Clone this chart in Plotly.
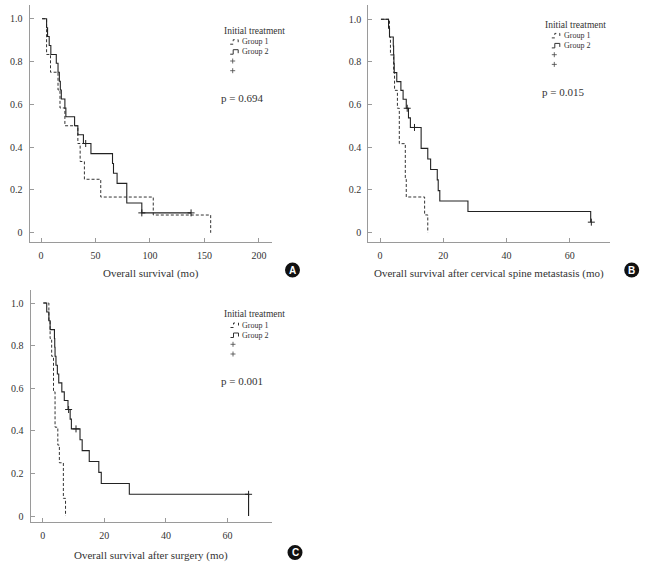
import plotly.graph_objects as go

# survival curves (time in months, survival after each step)
a_g1_t = [1, 5.1, 8.7, 15.6, 17.4, 21.9, 33.8, 35.9, 39.8, 54.8, 103, 155.7]
a_g1_s = [1, .833, .75, .667, .583, .5, .417, .333, .25, .167, .083, 0]
a_g2_t = [1, 5.1, 6.0, 7.5, 9.0, 14, 15.6, 16.8, 17.7, 18.6, 21.9, 22.8, 30.8, 33.8, 38.9,
          45.8, 65.6, 66.5, 69.8, 78.7, 92.5, 137.7]
a_g2_s = [1, .958, .917, .875, .833, .792, .75, .708, .667, .625, .583, .542, .5, .458, .417,
          .370, .324, .278, .231, .139, .093, .093]
a_cens_t = [41, 92.5, 137.7]
a_cens_s = [.417, .093, .093]

b_g1_t = [0.3, 3.0, 3.3, 4.3, 4.6, 5.5, 6.1, 8.0, 8.3, 14.1, 15.1]
b_g1_s = [1, .917, .833, .75, .667, .583, .417, .25, .167, .083, 0]
b_g2_t = [0.3, 2.7, 3.0, 4.2, 4.3, 4.4, 4.5, 5.3, 6.6, 7.3, 8.3, 9.0, 9.6, 13.0, 15.1, 16.0,
          18.1, 18.4, 18.9, 27.8, 66.6]
b_g2_s = [1, .958, .917, .875, .833, .792, .75, .708, .667, .625, .583, .538, .493, .395, .345,
          .296, .247, .197, .148, .099, .049]
b_cens_t = [8.6, 10.9, 66.8]
b_cens_s = [.583, .493, .049]

c_g1_t = [0.2, 2.0, 2.4, 2.9, 3.5, 4.0, 4.9, 5.4, 6.7, 7.4]
c_g1_s = [1, .917, .833, .75, .583, .417, .333, .25, .083, 0]
c_g2_t = [0.2, 1.3, 2.0, 2.4, 3.8, 3.9, 4.0, 4.3, 4.75, 5.2, 6.2, 7.0, 8.2, 8.9, 9.3, 12.1,
          12.8, 15.1, 18.2, 19.0, 28.1, 66.8]
c_g2_s = [1, .958, .917, .875, .833, .792, .75, .708, .667, .625, .583, .542, .5, .455, .409,
          .358, .307, .256, .205, .153, .102, 0]
c_cens_t = [8.4, 10.8, 66.8]
c_cens_s = [.5, .409, .102]

p_values = ['p = 0.694', 'p = 0.015', 'p = 0.001']
x_titles = ['Overall survival (mo)',
            'Overall survival after cervical spine metastasis (mo)',
            'Overall survival after surgery (mo)']
panel_letters = ['A', 'B', 'C']
x_ticks = [[0, 50, 100, 150, 200], [0, 20, 40, 60], [0, 20, 40, 60]]
y_ticks = [0, 0.2, 0.4, 0.6, 0.8, 1.0]
y_ticktext = ['0', '0.2', '0.4', '0.6', '0.8', '1.0']

W, H = 645, 566
SERIF = 'Liberation Serif'
TXT = '#333333'


def px(x):
    return x / W


def py(y):
    return 1 - y / H


def text(x, y, s, size, xanchor='center', color=TXT, family=SERIF):
    return dict(x=px(x), y=py(y), xref='paper', yref='paper', xanchor=xanchor,
                yanchor='middle', text=s, showarrow=False,
                font=dict(family=family, size=size, color=color))


def seg(x0, y0, x1, y1, width=0.8, dash='solid'):
    return dict(type='line', xref='paper', yref='paper', x0=px(x0), y0=py(y0),
                x1=px(x1), y1=py(y1), line=dict(color='#444444', width=width, dash=dash))


fig = go.Figure()

panels = [
    dict(g1=(a_g1_t, a_g1_s), g2=(a_g2_t, a_g2_s), cens=(a_cens_t, a_cens_s),
         dom_x=(29.7, 271.7), dom_y=(5, 242), xr=[-10.4, 211.7], yr=[-0.043, 1.064],
         leg=(221.7, 31), letter=(292.5, 270), title_y=273),
    dict(g1=(b_g1_t, b_g1_s), g2=(b_g2_t, b_g2_s), cens=(b_cens_t, b_cens_s),
         dom_x=(368.3, 610), dom_y=(5, 242), xr=[-3.7, 72.7], yr=[-0.044, 1.067],
         leg=(543.3, 24.7), letter=(631.7, 270), title_y=273),
    dict(g1=(c_g1_t, c_g1_s), g2=(c_g2_t, c_g2_s), cens=(c_cens_t, c_cens_s),
         dom_x=(30.7, 272), dom_y=(290, 522), xr=[-3.9, 74.4], yr=[-0.028, 1.061],
         leg=(222, 314.3), letter=(295, 552.5), title_y=555.7),
]

shapes = []
annotations = []
layout_axes = {}

for i, p in enumerate(panels):
    sfx = '' if i == 0 else str(i + 1)
    xa, ya = 'x' + sfx, 'y' + sfx

    fig.add_trace(go.Scatter(x=p['g1'][0], y=p['g1'][1], mode='lines', line_shape='hv',
                             line=dict(color='#333333', width=1, dash='3px,2px'),
                             xaxis=xa, yaxis=ya, showlegend=False))
    fig.add_trace(go.Scatter(x=p['g2'][0], y=p['g2'][1], mode='lines', line_shape='hv',
                             line=dict(color='#222222', width=1.1),
                             xaxis=xa, yaxis=ya, showlegend=False))
    fig.add_trace(go.Scatter(x=p['cens'][0], y=p['cens'][1], mode='markers',
                             marker=dict(symbol='cross-thin', size=5,
                                         line=dict(color='#222222', width=1)),
                             xaxis=xa, yaxis=ya, showlegend=False))

    common = dict(showline=True, linecolor='#9a9a9a', linewidth=1.3, ticks='inside',
                  ticklen=4, tickcolor='#9a9a9a', showgrid=False, zeroline=False,
                  tickfont=dict(family=SERIF, size=10, color=TXT), ticklabelstandoff=4)
    layout_axes['xaxis' + sfx] = dict(common, domain=[px(p['dom_x'][0]), px(p['dom_x'][1])],
                                      range=p['xr'], tickvals=x_ticks[i], anchor=ya)
    layout_axes['yaxis' + sfx] = dict(common, domain=[py(p['dom_y'][1]), py(p['dom_y'][0])],
                                      range=p['yr'], tickvals=y_ticks, ticktext=y_ticktext,
                                      anchor=xa)

    # x axis title
    cx = (p['dom_x'][0] + p['dom_x'][1]) / 2
    annotations.append(text(cx, p['title_y'], x_titles[i], 11))

    # legend block
    lx, ly = p['leg']
    annotations.append(text(lx, ly, 'Initial treatment', 9.5, 'left'))
    for k, lab in enumerate(['Group 1', 'Group 2']):
        annotations.append(text(lx + 18.5, ly + 10.7 + 10 * k, lab, 8, 'left'))
    # censor symbols in the legend
    for k in range(2):
        cy = ly + 30 + 9.7 * k
        shapes.append(seg(lx + 8.5, cy, lx + 13.5, cy))
        shapes.append(seg(lx + 11, cy - 2.5, lx + 11, cy + 2.5))
    annotations.append(text(lx - 3, ly + 67, p_values[i], 11, 'left'))

    # legend glyphs: little step shapes
    for k, dash in enumerate(['dot', 'solid']):
        gy = ly + 10.7 + 10 * k
        x0, x1, x2 = lx + 8.5, lx + 11.5, lx + 16.5
        path = 'M {} {} L {} {} L {} {} L {} {} L {} {}'.format(
            px(x0), py(gy + 2.5), px(x1), py(gy + 2.5), px(x1), py(gy - 2),
            px(x2), py(gy - 2), px(x2), py(gy + 1.5))
        shapes.append(dict(type='path', path=path, xref='paper', yref='paper',
                           line=dict(color='#333333', width=1, dash=dash)))

    # panel letter badge
    bx, by = p['letter']
    r = 7.5
    shapes.append(dict(type='circle', xref='paper', yref='paper',
                       x0=px(bx - r), x1=px(bx + r), y0=py(by + r), y1=py(by - r),
                       fillcolor='#111111', line=dict(color='#111111', width=0)))
    annotations.append(text(bx, by, '<b>' + panel_letters[i] + '</b>', 10,
                            color='white', family='Liberation Sans'))

fig.update_layout(
    width=W, height=H, autosize=False,
    margin=dict(l=0, r=0, t=0, b=0),
    paper_bgcolor='white', plot_bgcolor='white',
    showlegend=False,
    shapes=shapes, annotations=annotations,
    **layout_axes
)

fig.write_html("out.html", config={'displayModeBar': False},
               post_script="document.body.style.margin='0';document.body.style.overflow='hidden';")
